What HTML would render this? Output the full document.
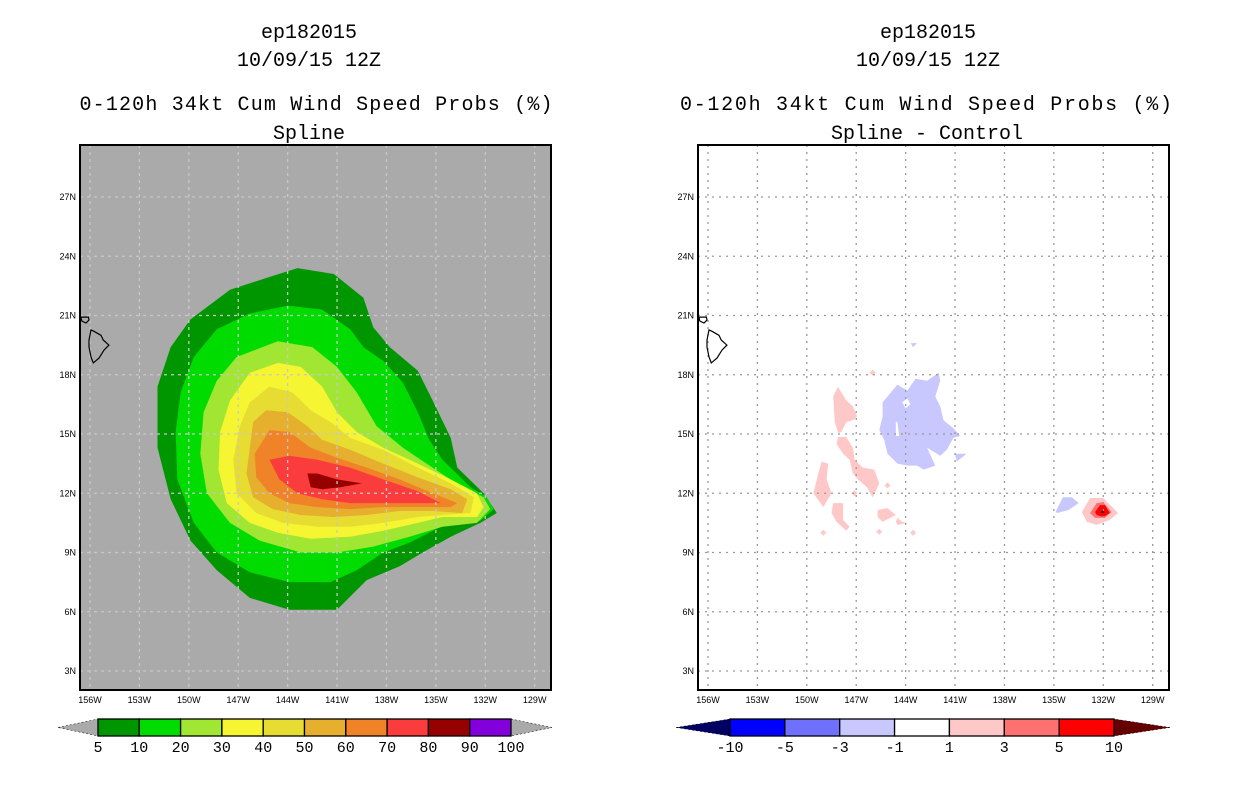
<!DOCTYPE html>
<html><head><meta charset="utf-8"><style>
body{margin:0;background:#fff;}
svg{display:block;font-family:"Liberation Sans",sans-serif;}
</style></head><body>
<svg id="chart" width="1236" height="800" viewBox="0 0 1236 800" xmlns="http://www.w3.org/2000/svg">
<g id="left"></g>
<g id="right"></g>
<g id="texts">
<text x="309" y="38" font-size="20" text-anchor="middle" font-family="Liberation Mono, monospace">ep182015</text>
<text x="309" y="66" font-size="20" text-anchor="middle" font-family="Liberation Mono, monospace">10/09/15 12Z</text>
<text x="316" y="110" font-size="20" text-anchor="middle" textLength="473" font-family="Liberation Mono, monospace">0-120h 34kt Cum Wind Speed Probs (%)</text>
<text x="309" y="139" font-size="20" text-anchor="middle" font-family="Liberation Mono, monospace">Spline</text>
<text x="928" y="38" font-size="20" text-anchor="middle" font-family="Liberation Mono, monospace">ep182015</text>
<text x="928" y="66" font-size="20" text-anchor="middle" font-family="Liberation Mono, monospace">10/09/15 12Z</text>
<text x="926" y="110" font-size="20" text-anchor="middle" textLength="492" font-family="Liberation Mono, monospace">0-120h 34kt Cum Wind Speed Probs (%)</text>
<text x="927" y="139" font-size="20" text-anchor="middle" font-family="Liberation Mono, monospace">Spline - Control</text>
</g>
</svg>
<script>
const lonTicks=[-156,-153,-150,-147,-144,-141,-138,-135,-132,-129];
const latTicks=[3,6,9,12,15,18,21,24,27];
const probLevels=[5,10,20,30,40,50,60,70,80];
const probColors=["#009600","#00dc00","#a0e632","#f5f532","#e6dc32","#e6af2d","#f08228","#fa3c3c","#960000"];
const probBarLabels=["5","10","20","30","40","50","60","70","80","90","100"];
const probBarColors=["#009600","#00dc00","#a0e632","#f5f532","#e6dc32","#e6af2d","#f08228","#fa3c3c","#960000","#8200dc"];
const diffBarLabels=["-10","-5","-3","-1","1","3","5","10"];
const diffBarColors=["#0000ff","#7070ff","#c8c8ff","#ffffff","#ffc8c8","#ff7070","#ff0000"];
const c5=[[-143.4,23.4],[-141.2,23.1],[-139.4,21.9],[-138.8,20.4],[-137.8,19.4],[-136.1,18.2],[-135.2,16.7],[-134.1,14.8],[-133.7,13.3],[-132.1,12.0],[-131.3,11.0],[-132.3,10.5],[-134.1,9.8],[-135.8,9.0],[-137.2,8.3],[-139.2,7.6],[-141.0,6.1],[-143.9,6.1],[-146.3,6.7],[-148.3,8.1],[-149.9,9.6],[-151.1,11.7],[-151.9,14.3],[-151.9,17.4],[-151.1,19.4],[-149.9,20.8],[-147.5,22.3],[-145.3,22.9]];
const c10=[[-144.0,21.5],[-141.9,21.3],[-140.2,20.3],[-139.4,19.4],[-138.2,18.7],[-137.0,17.6],[-136.1,16.1],[-135.4,14.7],[-134.6,13.7],[-132.9,12.3],[-131.9,11.8],[-131.5,11.2],[-132.3,10.6],[-134.7,10.3],[-136.6,9.5],[-138.2,9.0],[-139.8,8.1],[-141.4,7.5],[-143.9,7.5],[-146.3,8.0],[-148.3,9.0],[-149.7,10.5],[-150.7,12.7],[-150.8,15.1],[-150.5,17.1],[-149.7,18.9],[-148.3,20.3],[-146.3,21.1]];
const c20=[[-144.6,19.7],[-142.5,19.4],[-141.0,18.4],[-139.8,17.1],[-138.6,15.4],[-137.0,14.3],[-135.2,13.3],[-133.4,12.3],[-132.1,11.8],[-131.7,11.2],[-132.5,10.5],[-134.6,10.3],[-136.6,9.8],[-138.8,9.3],[-141.0,9.0],[-143.2,9.0],[-145.7,9.6],[-147.5,10.5],[-148.9,12.0],[-149.3,14.0],[-149.1,16.1],[-148.3,17.7],[-147.1,18.9]];
const c30=[[-144.6,18.6],[-143.2,18.4],[-141.9,17.4],[-141.0,16.1],[-139.8,15.1],[-138.2,14.3],[-136.1,13.5],[-134.1,12.7],[-132.5,12.0],[-132.1,11.3],[-132.5,10.8],[-134.6,10.8],[-136.1,10.5],[-138.2,10.1],[-140.2,9.8],[-142.6,9.7],[-144.6,10.0],[-146.3,10.5],[-147.7,11.5],[-148.2,13.2],[-148.1,15.1],[-147.5,16.7],[-146.3,18.1]];
const c40=[[-145.1,17.4],[-143.7,17.1],[-142.6,16.2],[-141.4,15.6],[-140.2,14.8],[-138.2,14.2],[-136.1,13.3],[-134.1,12.5],[-132.7,11.8],[-132.9,11.0],[-134.6,10.9],[-136.1,10.8],[-138.2,10.5],[-140.2,10.3],[-142.2,10.3],[-144.3,10.5],[-145.9,11.0],[-147.1,12.0],[-147.3,13.7],[-146.9,15.4],[-146.3,16.6]];
const c50=[[-145.3,16.2],[-144.0,16.1],[-142.8,15.4],[-141.9,14.7],[-140.2,14.2],[-138.2,13.5],[-136.1,12.8],[-134.1,12.2],[-133.1,11.7],[-133.4,11.0],[-135.2,11.1],[-137.2,11.1],[-139.2,10.9],[-141.2,10.8],[-143.2,10.9],[-144.9,11.2],[-146.1,11.8],[-146.5,13.0],[-146.3,14.3],[-146.1,15.6]];
const c60=[[-145.1,15.2],[-143.9,15.1],[-142.6,14.3],[-141.0,13.8],[-139.2,13.3],[-137.2,12.7],[-135.2,12.0],[-133.7,11.5],[-134.1,11.3],[-136.1,11.3],[-138.2,11.3],[-140.2,11.2],[-142.2,11.3],[-143.9,11.5],[-145.1,12.0],[-145.9,12.8],[-146.0,14.0]];
const c70=[[-145.1,13.7],[-143.9,13.9],[-142.2,13.7],[-140.2,13.3],[-138.2,12.7],[-136.1,12.1],[-134.7,11.5],[-136.1,11.5],[-138.2,11.5],[-140.2,11.5],[-141.9,11.7],[-143.4,12.0],[-144.5,12.7]];
const c80=[[-142.8,13.0],[-142.2,13.0],[-141.0,12.7],[-139.5,12.5],[-140.8,12.3],[-141.9,12.2],[-142.6,12.3]];
const probContours=[c5,c10,c20,c30,c40,c50,c60,c70,c80];
const bigIsland=[[-155.94,20.27],[-155.76,20.2],[-155.33,20.0],[-155.2,19.76],[-154.85,19.5],[-155.15,19.25],[-155.45,18.85],[-155.8,18.6],[-155.94,18.9],[-156.06,19.4],[-156.06,19.76]];
const maui=[[-156.55,20.92],[-156.1,20.92],[-156.06,20.77],[-156.24,20.62],[-156.5,20.72]];
const negBlobs=[
[[-143.9,17.2],[-143.4,17.8],[-142.7,17.7],[-142.0,18.1],[-141.9,17.7],[-142.2,16.9],[-141.9,16.4],[-141.7,15.7],[-141.1,15.3],[-140.7,14.9],[-141.1,14.8],[-141.5,14.2],[-141.9,13.9],[-142.7,14.3],[-142.2,13.4],[-142.9,13.2],[-143.3,13.4],[-143.9,13.4],[-144.5,13.5],[-145.1,14.0],[-145.3,14.7],[-145.6,15.2],[-145.4,15.9],[-145.4,16.6],[-144.9,17.1],[-144.5,17.5]],
[[-143.7,19.6],[-143.3,19.6],[-143.55,19.4]],
[[-141.0,14.0],[-140.3,14.0],[-140.9,13.6]],
[[-134.45,11.8],[-133.9,11.8],[-133.5,11.5],[-134.1,11.15],[-134.8,11.0],[-134.9,11.05]]];
const holes=[[[-144.2,16.6],[-143.9,16.8],[-143.7,16.5],[-144.0,16.3]],[[-144.6,15.6],[-144.5,15.6],[-144.4,14.9],[-144.6,14.9]]];
const posBlobs=[
[[-148.1,17.4],[-147.9,17.1],[-147.6,16.7],[-147.2,16.4],[-146.95,15.9],[-147.2,15.7],[-147.6,15.6],[-147.9,15.1],[-148.1,15.05],[-148.3,15.6],[-148.4,16.9]],
[[-148.1,14.85],[-147.6,14.85],[-147.2,14.3],[-147.1,13.7],[-146.6,13.3],[-145.9,13.2],[-145.6,12.5],[-146.0,11.8],[-146.35,12.3],[-146.9,12.7],[-147.2,13.0],[-147.4,13.7],[-147.8,14.0],[-148.2,14.5]],
[[-149.1,13.6],[-148.7,13.5],[-148.8,12.7],[-148.5,12.0],[-149.0,11.3],[-149.6,12.0],[-149.3,13.0]],
[[-148.4,11.5],[-147.8,11.5],[-147.8,10.65],[-147.4,10.3],[-147.6,10.1],[-148.2,10.55],[-148.5,11.0]],
[[-145.7,11.15],[-145.1,11.25],[-144.6,10.9],[-145.4,10.55],[-145.7,10.8]],
[[-144.5,10.75],[-144.2,10.55],[-143.9,10.5],[-144.5,10.4],[-144.6,10.55]],
[[-132.8,11.76],[-132.0,11.76],[-131.4,11.25],[-131.1,11.0],[-131.6,10.65],[-132.4,10.4],[-133.0,10.55],[-133.3,11.05]]];
const posDots=[[-147.1,12.0],[-143.55,10.0],[-145.6,10.05],[-149.0,10.0],[-145.1,12.4],[-146.0,18.1]];
const pos3Blob=[[-132.4,11.5],[-132.0,11.55],[-131.5,11.05],[-131.9,10.75],[-132.5,10.75],[-132.8,11.0]];
const pos5Blob=[[-132.2,11.4],[-131.9,11.4],[-131.6,11.0],[-132.0,10.8],[-132.4,10.9],[-132.5,11.05]];
const pos10Blob=[[-132.05,11.2],[-131.9,11.0],[-132.15,11.0]];

const NS="http://www.w3.org/2000/svg";
function mk(tag,attrs,parent){const e=document.createElementNS(NS,tag);for(const k in attrs)e.setAttribute(k,attrs[k]);parent.appendChild(e);return e;}
const Y0=671, DY=19.75, DX=16.47;
function yOf(lat){return Y0-(lat-3)*DY;}
function xOf(lon,x0){return x0+(lon+156)*DX;}
function pts(poly,x0){return poly.map(p=>xOf(p[0],x0).toFixed(1)+","+yOf(p[1]).toFixed(1)).join(" ");}

function panel(g,x0,L,R,bg,gridDash,gridCol){
  const clipId="clip"+x0;
  const cp=mk("clipPath",{id:clipId},g);
  mk("rect",{x:L,y:145,width:R-L,height:545},cp);
  const bgR=mk("rect",{x:L,y:145,width:R-L,height:545,fill:bg},g);
  
  
  const inner=mk("g",{"clip-path":"url(#"+clipId+")"},g);
  return inner;
}
function grid(inner,x0,L,R,dash,col,g){
  lonTicks.forEach(lon=>{const x=xOf(lon,x0);
    const l=mk("line",{x1:x,x2:x,y1:145,y2:690,stroke:col,"stroke-width":1.3,"stroke-dasharray":dash},inner);
    
    
    const t=mk("text",{x:x,y:703,"font-size":9,"text-anchor":"middle"},g);t.textContent=(-lon)+"W";
    
    
  });
  latTicks.forEach(lat=>{const y=yOf(lat);
    const l=mk("line",{x1:L,x2:R,y1:y,y2:y,stroke:col,"stroke-width":1.3,"stroke-dasharray":dash},inner);
    
    
    const t=mk("text",{x:L-4,y:y+3,"font-size":9,"text-anchor":"end"},g);t.textContent=lat+"N";
    
    
  });
}
function coast(inner,x0){
  const a=mk("polygon",{points:pts(bigIsland,x0),fill:"none",stroke:"#000","stroke-width":1.2},inner);
  
  
  const b=mk("polygon",{points:pts(maui,x0),fill:"none",stroke:"#000","stroke-width":1.2},inner);
  
  
}
// LEFT
const gl=document.getElementById("left");
const xl=90, Ll=80, Rl=551;
const il=panel(gl,xl,Ll,Rl,"#aaaaaa");
probContours.forEach((c,i)=>{
  const p=mk("polygon",{points:pts(c,xl),fill:probColors[i]},il);
  
  
});
grid(il,xl,Ll,Rl,"3,4","#c8c8c8",gl);
coast(il,xl);
const fl=mk("rect",{x:Ll,y:145,width:Rl-Ll,height:545,fill:"none",stroke:"#000","stroke-width":2},gl);


// RIGHT
const gr=document.getElementById("right");
const xr=708, Lr=698, Rr=1169;
const ir=panel(gr,xr,Lr,Rr,"#ffffff");
negBlobs.forEach(b=>{const p=mk("polygon",{points:pts(b,xr),fill:"#c8c8ff"},ir);
  
  });
holes.forEach(b=>{const p=mk("polygon",{points:pts(b,xr),fill:"#ffffff"},ir);
  
  });
posBlobs.forEach(b=>{const p=mk("polygon",{points:pts(b,xr),fill:"#ffc8c8"},ir);
  
  });
posDots.forEach(d=>{const x=xOf(d[0],xr),y=yOf(d[1]);
  const p=mk("polygon",{points:`${x-3},${y} ${x},${y-3} ${x+3},${y} ${x},${y+3}`,fill:"#ffc8c8"},ir);
  
  });
[[pos3Blob,"#ff7070"],[pos5Blob,"#ff0000"],[pos10Blob,"#600000"]].forEach(([b,c])=>{
  const p=mk("polygon",{points:pts(b,xr),fill:c},ir);
  
  });
grid(ir,xr,Lr,Rr,"2,5","#999999",gr);
coast(ir,xr);
const fr=mk("rect",{x:Lr,y:145,width:Rr-Lr,height:545,fill:"none",stroke:"#000","stroke-width":2},gr);



// colorbars
function colorbar(g,x1,x2,colors,labels,leftTip,rightTip,tipL,tipR,skipEnds,name){
  const cb=mk("g",{},g);
  
  
  const w=(x2-x1)/colors.length, y1=719, y2=736;
  const a=mk("polygon",{points:`${tipL},727.5 ${x1},${y1} ${x1},${y2}`,fill:leftTip,stroke:"#000","stroke-width":0.5,"stroke-dasharray":"2,2"},cb);
  
  
  const b=mk("polygon",{points:`${tipR},727.5 ${x2},${y1} ${x2},${y2}`,fill:rightTip,stroke:"#000","stroke-width":0.5,"stroke-dasharray":"2,2"},cb);
  
  
  colors.forEach((c,i)=>{const r=mk("rect",{x:x1+i*w,y:y1,width:w,height:y2-y1,fill:c,stroke:"#000","stroke-width":1.3},cb);
    
    });
  labels.forEach((l,i)=>{const t=mk("text",{x:x1+i*w,y:752,"font-size":15,"text-anchor":"middle","font-family":"Liberation Mono, monospace"},cb);
    t.textContent=l;
    
    });
}
colorbar(gl,98,511,probBarColors,probBarLabels,"#aaaaaa","#aaaaaa",58,552,false,"prob-colorbar");
colorbar(gr,730,1114,diffBarColors,diffBarLabels,"#000064","#640000",676,1170,false,"diff-colorbar");
</script>
</body></html>
